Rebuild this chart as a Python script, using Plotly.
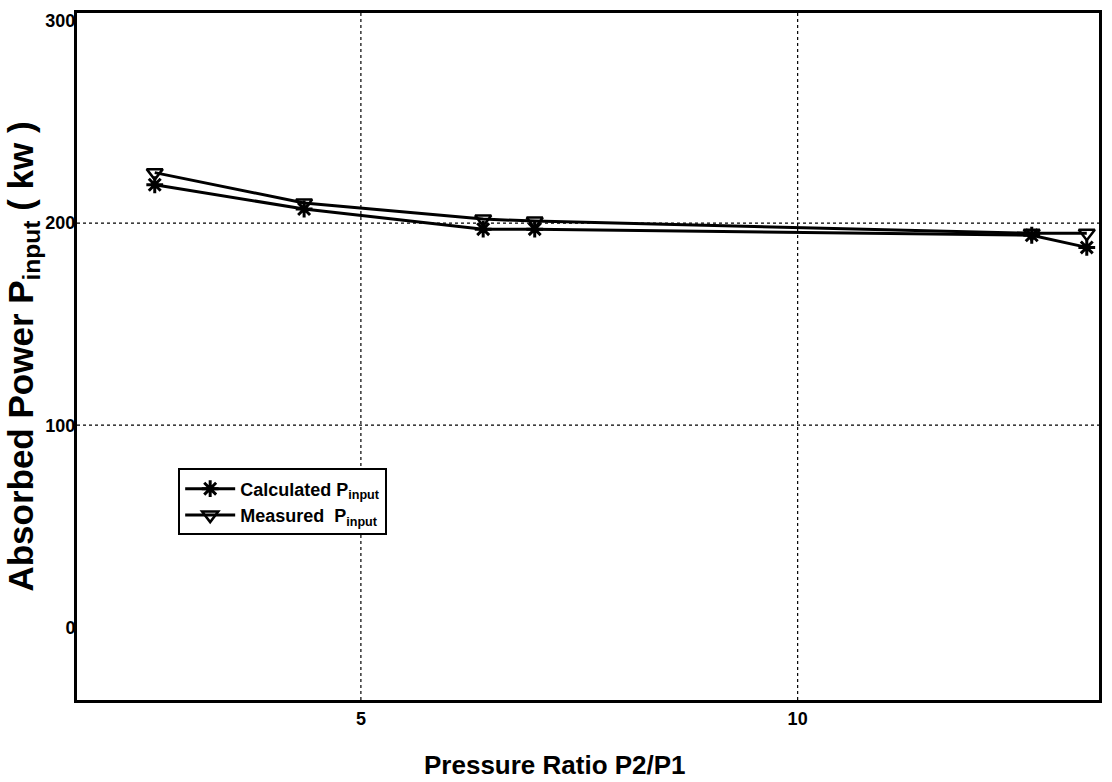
import plotly.graph_objects as go

# Pressure ratio P2/P1 at each operating point
pressure_ratio = [2.64, 4.35, 6.4, 6.99, 12.68, 13.31]
# Absorbed power (kW)
calculated_power = [219, 207, 197, 197, 194, 188]
measured_power = [225, 210, 202, 201, 195, 195]

x_ticks = [5, 10]
y_ticks = [0, 100, 200, 300]
x_grid = [5, 10]
y_grid = [100, 200]

FONT = "Liberation Sans, Arial, sans-serif"

fig = go.Figure()

fig.add_trace(go.Scatter(
    x=pressure_ratio, y=calculated_power, mode="lines+markers",
    name="<b>Calculated P<sub>input</sub></b>",
    line=dict(color="black", width=3),
    marker=dict(symbol="asterisk-open", size=14, color="black",
                line=dict(color="black", width=3)),
))
fig.add_trace(go.Scatter(
    x=pressure_ratio, y=measured_power, mode="lines+markers",
    name="<b>Measured  P<sub>input</sub></b>",
    line=dict(color="black", width=3),
    marker=dict(symbol="triangle-down-open", size=14, color="black",
                line=dict(color="black", width=2.5)),
))

# dotted grid lines at the interior ticks only
for gx in x_grid:
    fig.add_shape(type="line", xref="x", yref="paper", x0=gx, x1=gx, y0=0, y1=1,
                  line=dict(color="black", width=1.2, dash="dot"), layer="below")
for gy in y_grid:
    fig.add_shape(type="line", xref="paper", yref="y", x0=0, x1=1, y0=gy, y1=gy,
                  line=dict(color="black", width=1.2, dash="dot"), layer="below")

axis_common = dict(
    showline=True, linecolor="black", linewidth=3, mirror=True,
    showgrid=False, zeroline=False, ticks="", color="black",
    tickfont=dict(family=FONT, size=18, color="black"),
)

fig.update_xaxes(
    range=[1.75, 13.45], tickvals=x_ticks,
    ticktext=[f"<b>{v}</b>" for v in x_ticks],
    **axis_common,
)
fig.update_yaxes(
    range=[-36, 304], tickvals=y_ticks,
    ticktext=[f"<b>{v}</b>" for v in y_ticks],
    ticklabelstandoff=-5,
    title=dict(text="<b>Absorbed Power P<sub>input</sub> ( kw )</b>",
               font=dict(family=FONT, size=35, color="black"), standoff=2),
    **axis_common,
)

fig.add_annotation(
    text="<b>Pressure Ratio P2/P1</b>", xref="paper", yref="paper",
    x=0.468, y=0, yshift=-65, xanchor="center", yanchor="middle",
    showarrow=False, font=dict(family=FONT, size=26, color="black"),
)

fig.update_layout(
    width=1112, height=782,
    margin=dict(l=77, r=10, t=12, b=82),
    paper_bgcolor="white", plot_bgcolor="white",
    showlegend=True,
    legend=dict(
        x=0.099, y=0.337, xanchor="left", yanchor="top",
        bgcolor="white", bordercolor="black", borderwidth=2,
        font=dict(family=FONT, size=18, color="black"),
        tracegroupgap=0, itemwidth=50,
    ),
)

fig.write_html("out.html")
